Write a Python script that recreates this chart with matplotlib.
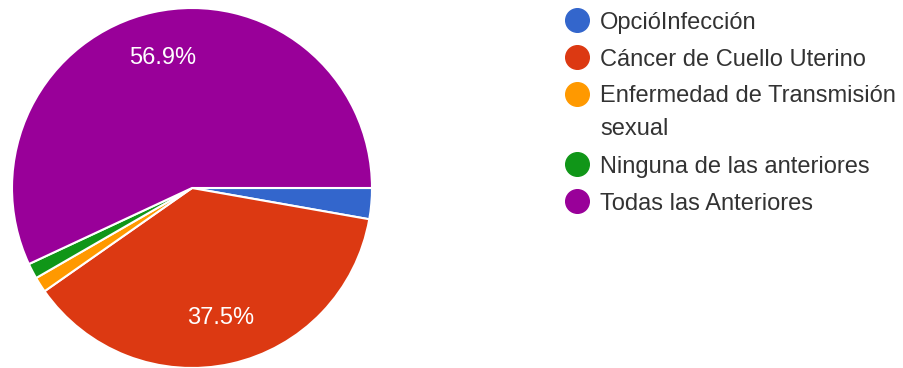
import matplotlib
matplotlib.use("Agg")
import matplotlib.pyplot as plt

plt.rcParams['font.family'] = ['Liberation Sans', 'DejaVu Sans']

categories = ["OpcióInfección", "Cáncer de Cuello Uterino",
              "Enfermedad de Transmisión\nsexual", "Ninguna de las anteriores",
              "Todas las Anteriores"]
counts = [2, 27, 1, 1, 41]
colors = ["#3366cc", "#dc3912", "#ff9900", "#109618", "#990099"]

W, H = 904, 368
fig = plt.figure(figsize=(W / 100, H / 100), dpi=100)

# pie area: centre (192, 188) px from top-left, radius 180 px
cx, cy, r = 192, 188, 180
ax = fig.add_axes([(cx - r) / W, (H - cy - r) / H, 2 * r / W, 2 * r / H])


def pct_label(p):
    return f"{p:.1f}%" if p >= 5 else ""


wedges, _, autotexts = ax.pie(
    counts, colors=colors, startangle=0, counterclock=False,
    radius=1.0, autopct=pct_label, pctdistance=0.74,
    wedgeprops=dict(edgecolor="white", linewidth=1.5),
    textprops=dict(color="white", fontsize=17))
ax.set_xlim(-1.0, 1.0)
ax.set_ylim(-1.0, 1.0)
ax.set_aspect("equal")
ax.axis("off")

# legend: coloured dots with labels, wrapped entries take an extra line
dot_x, text_x = 577, 600
y = 20
line_gap = 33
row_gap = 37
for label, color in zip(categories, colors):
    fig.lines.append(plt.Line2D([dot_x / W], [1 - y / H], marker="o",
                                markersize=17, color=color, linestyle="none",
                                transform=fig.transFigure, figure=fig))
    lines = label.split("\n")
    for i, part in enumerate(lines):
        fig.text(text_x / W, 1 - (y + i * line_gap) / H, part,
                 fontsize=17, color="#333333", ha="left", va="center_baseline")
    y += row_gap + (len(lines) - 1) * line_gap

fig.savefig("out.png", dpi=100, facecolor="white")
